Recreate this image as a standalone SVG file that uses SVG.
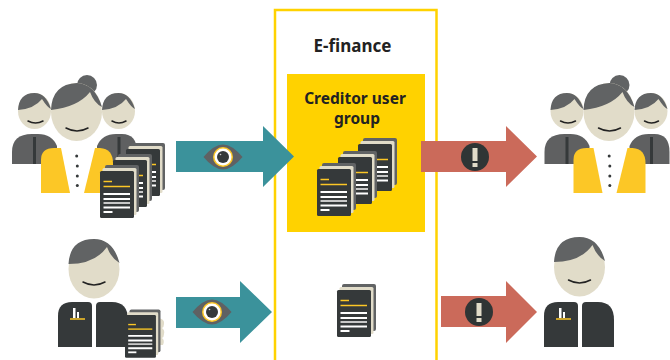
<svg xmlns="http://www.w3.org/2000/svg" xmlns:xlink="http://www.w3.org/1999/xlink" width="670" height="360" viewBox="0 0 670 360">
<style>
.skin{fill:#e1dcc9}
.hair{fill:#616364}
.suit{fill:#5f6061}
.dark{fill:#35393a}
.jacket{fill:#fcc726}
.mouth{fill:none;stroke:#222;stroke-width:1.5;stroke-linecap:round}
.wl{stroke:#fff;stroke-width:2}
.gl{stroke:#c8c8c8;stroke-width:2}
.yl{stroke:#fcc726;stroke-width:1.5}
.title{font-family:"Noto Sans","Open Sans",sans-serif;font-weight:700;fill:#222;text-anchor:middle}
.teal{fill:#3b929b}
.red{fill:#cb6a5a}
</style>
<defs>
<g id="doc">
<rect x="5" y="-6" width="34" height="47" rx="2" fill="#616364"/>
<rect x="2.500" y="-3" width="34" height="47" rx="1.500" fill="#e1dcc9"/>
<rect x="0" y="0" width="34" height="47" rx="1.500" fill="#35393a"/>
<path class="yl" d="M3.500 10.500H12"/>
<path class="yl" d="M3.500 15.500H30"/>
<path class="wl" d="M3.500 23H30M3.500 28H30M3.500 36.500H30"/>
<path class="gl" d="M3.500 32H30"/>
<path class="wl" d="M3.500 41H12.500"/>
</g>
<g id="group3">
<path class="suit" d="M12 164V152Q12 134 32 134H38Q52 134 57 146V164Z"/>
<rect class="dark" x="33" y="137" width="3" height="27"/>
<path class="suit" d="M97 146Q102 134 116 134H122Q137 134 137 152V164H97Z"/>
<rect class="dark" x="117.500" y="137" width="3" height="27"/>
<ellipse class="skin" cx="34.500" cy="111" rx="16.500" ry="18"/>
<path class="hair" d="M18 110Q19 93 34.500 93Q46 93 51 109Q47 107 42 99Q34 109 18 110Z"/>
<ellipse class="skin" cx="118.500" cy="111" rx="16.500" ry="18"/>
<path class="hair" d="M102 110Q103 93 118.500 93Q130 93 135 109Q131 107 126 99Q118 109 102 110Z"/>
<path class="mouth" d="M28 121Q35.500 125 43 121M112 121Q119 125 126 121"/>
<circle class="hair" cx="87" cy="85" r="10"/>
<ellipse class="skin" cx="76.500" cy="112" rx="25.500" ry="29"/>
<path class="hair" d="M51 110Q52 84 77 83Q95 84 102 107Q94 103 90 92Q78 107 51 110Z"/>
<path class="mouth" d="M66 128Q77 134 88 128"/>
<path class="jacket" d="M41 193H70L61 148H54Q41 148 41 160Z"/>
<path class="jacket" d="M84 193L95 148H100Q113 149 113 163V193Z"/>
<g fill="#35393a"><circle cx="76.700" cy="156" r="1.500"/><circle cx="77.300" cy="166" r="1.500"/><circle cx="77.300" cy="176" r="1.500"/><circle cx="77.300" cy="185.500" r="1.500"/></g>
</g>
<g id="head">
<ellipse class="skin" cx="94" cy="269" rx="25.500" ry="29.500"/>
<path class="hair" d="M68.500 264Q70 239 94 239Q113 239 119.500 263Q111 258 107 247Q95 264 68.500 264Z"/>
<path class="mouth" d="M83 282Q94 288 105 282"/>
</g>
<g id="suit">
<path class="dark" d="M58 347V316Q58 302 72 302H88Q92 302 92 306V347Z"/>
<path class="dark" d="M96 347V306Q96 302 100 302H112Q128 302 128 320V347Z"/>
<path fill="#fff" d="M73 308H75.500V318H73ZM77 312H79V318H77Z"/>
<path class="yl" d="M70 319H85"/>
</g>
<g id="eye">
<path fill="#5f6163" d="M-19.500 0Q-9 -12.500 0 -12.500Q9 -12.500 19.500 0Q9 12.500 0 12.500Q-9 12.500 -19.500 0Z"/>
<circle r="10" fill="#fcc726"/>
<circle r="8.500" fill="#fff"/>
<circle r="6" fill="#35393a"/>
<circle cx="-2.500" cy="-2.500" r="0.800" fill="#ccc"/>
</g>
<g id="alert">
<circle r="14" fill="#2f3535"/>
<rect x="-2.500" y="-9" width="5" height="13" fill="#e1dcc9"/>
<rect x="-2.500" y="6" width="5" height="4" fill="#e1dcc9"/>
</g>
</defs>

<g id="e-finance">
<path d="M275 360V10H436.500V360" fill="none" stroke="#ffd200" stroke-width="2.500"/>
<text class="title" x="352.500" y="52" font-size="17">E-finance</text>
</g>
<g id="creditor-user-group">
<rect x="287" y="74" width="138" height="158" fill="#ffd200"/>
<text class="title" x="355" y="104" font-size="15.500">Creditor user</text>
<text class="title" x="357" y="124" font-size="15.500">group</text>
<use xlink:href="#doc" href="#doc" x="358" y="144"/>
<use xlink:href="#doc" href="#doc" x="338" y="157"/>
<use xlink:href="#doc" href="#doc" x="317" y="169"/>
</g>
<g id="connectors">
<path class="teal" d="M176 141H263V126L294 156.500L263 187V172H176Z"/>
<path class="teal" d="M176 297H240V281L272 312L240 343V328H176Z"/>
<path class="red" d="M421 141H506V126L537 156.500L506 187V172H421Z"/>
<path class="red" d="M441 296H506V281L537 312L506 343V327H441Z"/>
<use xlink:href="#eye" href="#eye" x="223" y="157"/>
<use xlink:href="#eye" href="#eye" x="212" y="312"/>
<use xlink:href="#alert" href="#alert" x="475" y="157"/>
<use xlink:href="#alert" href="#alert" x="479" y="312"/>
</g>
<g id="users-left">
<use xlink:href="#group3" href="#group3"/>
<use xlink:href="#doc" href="#doc" x="126" y="149"/>
<use xlink:href="#doc" href="#doc" x="113" y="160"/>
<use xlink:href="#doc" href="#doc" x="100" y="171"/>
</g>
<g id="users-right">
<use xlink:href="#group3" href="#group3" x="532.500"/>
</g>
<g id="person-left">
<use xlink:href="#head" href="#head"/>
<use xlink:href="#suit" href="#suit"/>
<path fill="#e1dcc9" d="M158 318Q165 319 164 324Q164 327 162 328Q165 330 164 334Q164 337 162 338Q165 340 163 345H158Z"/>
<use xlink:href="#doc" href="#doc" transform="translate(125 315) scale(0.91)"/>
</g>
<g id="document-lower">
<use xlink:href="#doc" href="#doc" x="337" y="290"/>
</g>
<g id="person-right">
<use xlink:href="#head" href="#head" x="485.500" y="-2"/>
<use xlink:href="#suit" href="#suit" x="486"/>
</g>
</svg>
